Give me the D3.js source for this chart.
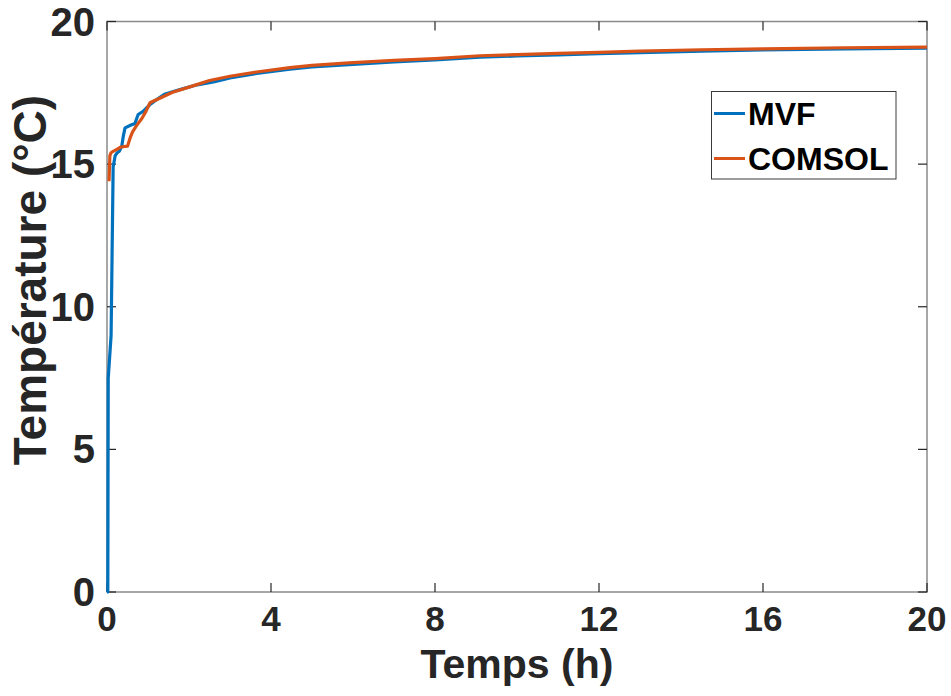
<!DOCTYPE html>
<html>
<head>
<meta charset="utf-8">
<script src="https://cdn.jsdelivr.net/npm/d3@7"></script>
<style>
  body { margin: 0; background: #fff; }
  svg { display: block; }
</style>
</head>
<body>
<svg id="chart" width="951" height="696"></svg>
<script>
// MVF series (time in h, temperature in °C)
const mvfTime = [0, 0.02, 0.03, 0.1, 0.15, 0.2, 0.25, 0.3, 0.36, 0.4, 0.44, 0.6, 0.68, 0.76, 0.88, 1.05, 1.15, 1.4, 1.8, 2.2, 2.6, 3.0, 3.65, 4.46, 5, 6, 7, 8, 9.1, 10, 11, 12, 13, 14.5, 16, 18, 20];
const mvfTemp = [0, 0, 7.5, 9.0, 14.9, 15.3, 15.4, 15.45, 15.63, 16.0, 16.27, 16.38, 16.42, 16.74, 16.85, 17.09, 17.2, 17.45, 17.62, 17.78, 17.88, 18.02, 18.18, 18.33, 18.41, 18.5, 18.58, 18.65, 18.75, 18.79, 18.83, 18.87, 18.91, 18.96, 19.0, 19.04, 19.07];

// COMSOL series
const comsolTime = [0.05, 0.07, 0.1, 0.15, 0.24, 0.34, 0.5, 0.56, 0.62, 0.72, 0.85, 0.95, 1.05, 1.15, 1.3, 1.6, 2.0, 2.5, 3.0, 3.65, 4.46, 5, 5.9, 7, 8, 9.1, 10, 11, 12, 13, 14.5, 16, 18, 20];
const comsolTemp = [14.4, 15.3, 15.4, 15.45, 15.52, 15.6, 15.63, 15.9, 16.12, 16.35, 16.6, 16.85, 17.15, 17.22, 17.32, 17.52, 17.7, 17.93, 18.08, 18.23, 18.38, 18.46, 18.55, 18.64, 18.7, 18.8, 18.84, 18.88, 18.92, 18.96, 19.01, 19.04, 19.08, 19.1];

const xTicks = [0, 4, 8, 12, 16, 20];
const yTicks = [0, 5, 10, 15, 20];
const seriesNames = ["MVF", "COMSOL"];
const seriesColors = ["#0072BD", "#D95319"];

const svg = d3.select("#chart");
const mLeft = 107, mRight = 927, mTop = 21.5, mBottom = 592;

const x = d3.scaleLinear().domain([0, 20]).range([mLeft, mRight]);
const y = d3.scaleLinear().domain([0, 20]).range([mBottom, mTop]);

// box
svg.append("rect")
  .attr("x", mLeft).attr("y", mTop)
  .attr("width", mRight - mLeft).attr("height", mBottom - mTop)
  .attr("fill", "none").attr("stroke", "#8a8a8a").attr("stroke-width", 1.5);

// ticks (inward, on all four sides)
const tickLen = 9;
const tickColor = "#262626";
xTicks.forEach(t => {
  svg.append("line").attr("x1", x(t)).attr("x2", x(t)).attr("y1", mBottom).attr("y2", mBottom - tickLen)
    .attr("stroke", tickColor).attr("stroke-width", 1.2);
  svg.append("line").attr("x1", x(t)).attr("x2", x(t)).attr("y1", mTop).attr("y2", mTop + tickLen)
    .attr("stroke", tickColor).attr("stroke-width", 1.2);
});
yTicks.forEach(t => {
  svg.append("line").attr("x1", mLeft).attr("x2", mLeft + tickLen).attr("y1", y(t)).attr("y2", y(t))
    .attr("stroke", tickColor).attr("stroke-width", 1.2);
  svg.append("line").attr("x1", mRight).attr("x2", mRight - tickLen).attr("y1", y(t)).attr("y2", y(t))
    .attr("stroke", tickColor).attr("stroke-width", 1.2);
});

// tick labels
svg.selectAll(".xlab").data(xTicks).enter().append("text")
  .attr("x", d => x(d)).attr("y", 631)
  .attr("text-anchor", "middle")
  .attr("font-family", "'Liberation Sans Narrow', 'Liberation Sans', Arial, sans-serif")
  .attr("font-weight", "bold").attr("font-size", 35)
  .attr("fill", "#262626")
  .text(d => d);

svg.selectAll(".ylab").data(yTicks).enter().append("text")
  .attr("x", 95).attr("y", d => y(d) + 14)
  .attr("text-anchor", "end")
  .attr("font-family", "'Liberation Sans', Arial, sans-serif")
  .attr("font-weight", "bold").attr("font-size", 40)
  .attr("fill", "#262626")
  .text(d => d);

// axis titles
svg.append("text")
  .attr("x", 517).attr("y", 678)
  .attr("text-anchor", "middle")
  .attr("font-family", "'Liberation Sans Narrow', 'Liberation Sans', Arial, sans-serif")
  .attr("font-weight", "bold").attr("font-size", 41)
  .attr("fill", "#262626")
  .text("Temps (h)");

svg.append("text")
  .attr("transform", "translate(46,280) rotate(-90)")
  .attr("text-anchor", "middle")
  .attr("font-family", "'Liberation Sans', Arial, sans-serif")
  .attr("font-weight", "bold").attr("font-size", 46)
  .attr("fill", "#262626")
  .text("Température (°C)");

// lines
const line = d3.line().x(d => x(d[0])).y(d => y(d[1]));
const mvf = mvfTime.map((t, i) => [t, mvfTemp[i]]);
const comsol = comsolTime.map((t, i) => [t, comsolTemp[i]]);

svg.append("path").datum(mvf)
  .attr("d", line)
  .attr("fill", "none").attr("stroke", seriesColors[0]).attr("stroke-width", 3.2)
  .attr("stroke-linejoin", "round");
svg.append("path").datum(comsol)
  .attr("d", line)
  .attr("fill", "none").attr("stroke", seriesColors[1]).attr("stroke-width", 3.2)
  .attr("stroke-linejoin", "round");

// legend
const lg = svg.append("g");
lg.append("rect").attr("x", 711.5).attr("y", 91.5).attr("width", 184.5).attr("height", 87.5)
  .attr("fill", "#fff").attr("stroke", "#3a3a3a").attr("stroke-width", 1);
seriesNames.forEach((name, i) => {
  const cy = 113.5 + i * 45;
  lg.append("line").attr("x1", 714).attr("x2", 745).attr("y1", cy).attr("y2", cy)
    .attr("stroke", seriesColors[i]).attr("stroke-width", 3);
  lg.append("text").attr("x", 748).attr("y", cy + 11)
    .attr("font-family", "'Liberation Sans', Arial, sans-serif")
    .attr("font-weight", "bold").attr("font-size", 32)
    .attr("fill", "#000")
    .text(name);
});
</script>
</body>
</html>
